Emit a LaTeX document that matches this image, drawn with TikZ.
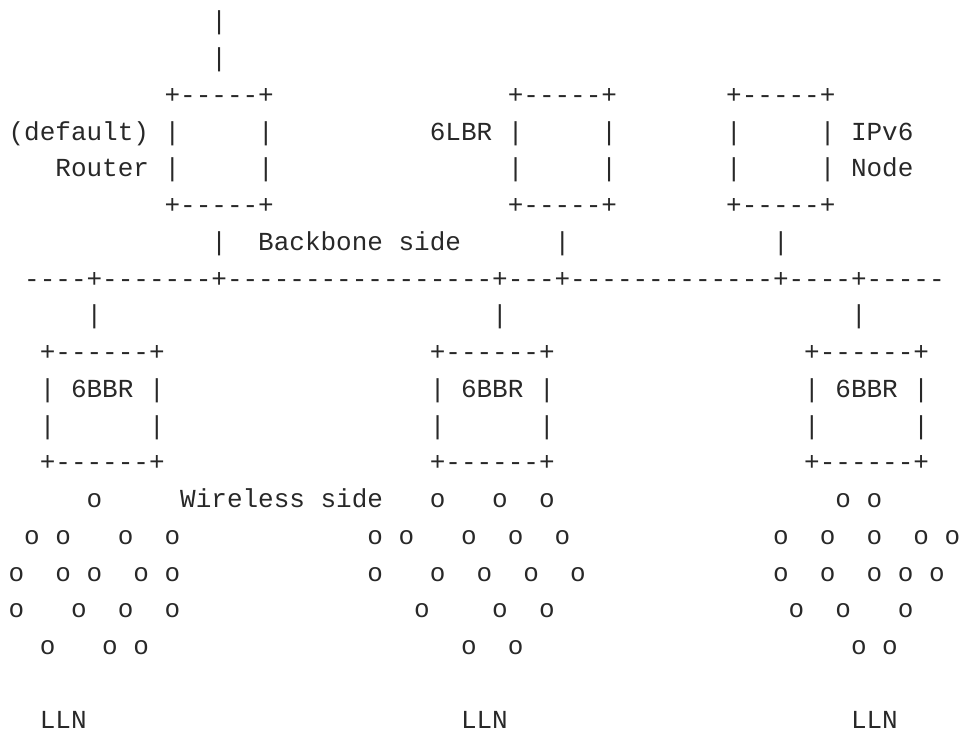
\documentclass[tikz,border=0pt]{standalone}
\usepackage{fontspec}
\setmonofont{Liberation Mono}
\definecolor{ink}{RGB}{40,40,40}
\tikzset{txt/.style={anchor=base west, inner sep=0pt, outer sep=0pt, text=ink,
  font=\ttfamily\fontsize{26}{30}\selectfont}}
\newcommand\tx[3]{\node[txt] (r#2c#1) at ({8.6+15.6*#1},{-29.75-36.75*#2}) {#3};}
\begin{document}
\begin{tikzpicture}[x=1pt,y=1pt]
\useasboundingbox (0,0) rectangle (963,-734);
% top link
\tx{13}{0}{|}
\tx{13}{1}{|}
% upper boxes
\foreach \r in {2,5}{
  \tx{10}{\r}{+-----+}
  \tx{32}{\r}{+-----+}
  \tx{46}{\r}{+-----+}
}
\foreach \r in {3,4}{
  \tx{10}{\r}{|}\tx{16}{\r}{|}
  \tx{32}{\r}{|}\tx{38}{\r}{|}
  \tx{46}{\r}{|}\tx{52}{\r}{|}
}
\tx{0}{3}{(default)}
\tx{3}{4}{Router}
\tx{27}{3}{6LBR}
\tx{54}{3}{IPv6}
\tx{54}{4}{Node}
% backbone
\tx{13}{6}{|}
\tx{16}{6}{Backbone side}
\tx{35}{6}{|}
\tx{49}{6}{|}
\tx{1}{7}{----+-------+-----------------+---+-------------+----+-----}
\tx{5}{8}{|}
\tx{31}{8}{|}
\tx{54}{8}{|}
% 6BBR boxes
\foreach \c/\d in {2/9,27/34,51/58}{
  \tx{\c}{9}{+------+}
  \tx{\c}{12}{+------+}
  \tx{\c}{10}{|}\tx{\d}{10}{|}
  \tx{\c}{11}{|}\tx{\d}{11}{|}
}
\tx{4}{10}{6BBR}
\tx{29}{10}{6BBR}
\tx{53}{10}{6BBR}
% wireless side
\tx{11}{13}{Wireless side}
\foreach \c in {5,27,31,34,53,55}{\tx{\c}{13}{o}}
\foreach \c in {1,3,7,10,23,25,29,32,35,49,52,55,58,60}{\tx{\c}{14}{o}}
\foreach \c in {0,3,5,8,10,23,27,30,33,36,49,52,55,57,59}{\tx{\c}{15}{o}}
\foreach \c in {0,4,7,10,26,31,34,50,53,57}{\tx{\c}{16}{o}}
\foreach \c in {2,6,8,29,32,54,56}{\tx{\c}{17}{o}}
\tx{2}{19}{LLN}
\tx{29}{19}{LLN}
\tx{54}{19}{LLN}
\end{tikzpicture}
\end{document}
